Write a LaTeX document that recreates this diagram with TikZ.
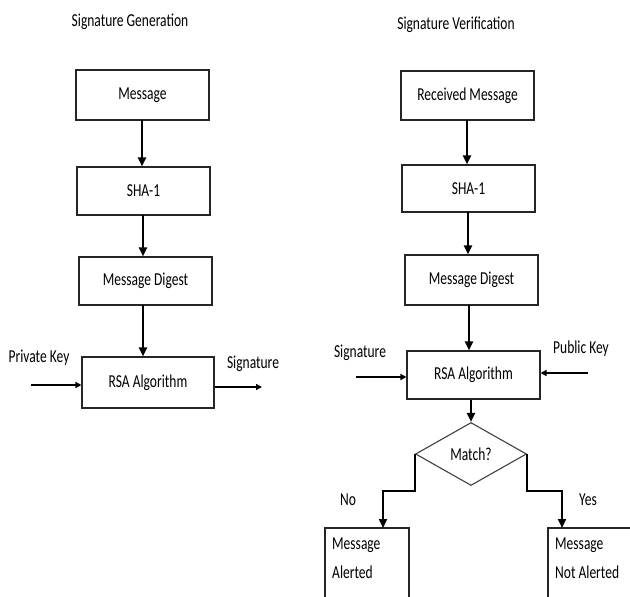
\documentclass[tikz,border=0pt]{standalone}
\usepackage{fontspec}
\setmainfont{Carlito}
\usepackage{graphicx}
\usetikzlibrary{shapes.geometric,arrows.meta}
\newcommand{\tallt}[1]{\scalebox{1}[1.35]{#1}}
\tikzset{
  box/.style={draw=black!85, line width=1.1pt, rectangle, inner sep=0pt,
              minimum width=133pt, font=\fontsize{13.5}{15}\selectfont},
  lbl/.style={inner sep=0pt, font=\fontsize{13.5}{15}\selectfont},
  flow/.style={line width=2pt, -{Triangle[length=9pt,width=8pt]}},
  side/.style={line width=2pt, -{Triangle[length=6pt,width=6pt]}},
  branch/.style={line width=2.2pt, -{Triangle[length=9pt,width=8pt]}}
}
\begin{document}
\begin{tikzpicture}[x=1pt,y=-1pt]
\useasboundingbox (0,0) rectangle (630,597);
\clip (0,0) rectangle (630,597);

% ---- generation side ----
\node[lbl] (gtitle) at (130,22) {\tallt{Signature Generation}};
\node[box, minimum height=50pt] (gmsg) at (142.5,95) {\tallt{Message}};
\node[box, minimum height=48pt] (gsha) at (143.5,191) {\tallt{SHA-1}};
\node[box, minimum height=48pt] (gdig) at (145.5,281) {\tallt{Message Digest}};
\node[box, minimum height=51pt, minimum width=132pt] (grsa) at (148,382.5) {\tallt{RSA Algorithm}};
\node[lbl] (privkey) at (39,358) {\tallt{Private Key}};
\node[lbl] (gsig) at (253,364) {\tallt{Signature}};
\coordinate (privin) at (31,385);
\coordinate (sigout) at (262,387);

\draw[flow] (142,120) coordinate (g1) -- (g1 |- gsha.north);
\draw[flow] (143,215) coordinate (g2) -- (g2 |- gdig.north);
\draw[flow] (143,305) coordinate (g3) -- (g3 |- grsa.north);
\draw[side] (privin) -- (privin -| grsa.west);
\draw[side] (sigout -| grsa.east) -- (sigout);

% ---- verification side ----
\node[lbl] (vtitle) at (456,25) {\tallt{Signature Verification}};
\node[box, minimum height=49pt] (vmsg) at (467.5,95.5) {\tallt{Received Message}};
\node[box, minimum height=47pt] (vsha) at (468.5,188.5) {\tallt{SHA-1}};
\node[box, minimum height=50pt] (vdig) at (471.5,280) {\tallt{Message Digest}};
\node[box, minimum height=48pt] (vrsa) at (473.5,375) {\tallt{RSA Algorithm}};
\node[lbl] (vsig) at (360,353) {\tallt{Signature}};
\node[lbl] (pubkey) at (581,349) {\tallt{Public Key}};
\coordinate (sigin) at (356,377);
\coordinate (pubin) at (588,373);

\node[diamond, draw=black!75, line width=1.1pt, inner sep=0pt,
      minimum width=111pt, minimum height=63pt,
      font=\fontsize{13.5}{15}\selectfont] (match) at (471,454) {\tallt{Match?}};

\draw[flow] (467,120) coordinate (v1) -- (v1 |- vsha.north);
\draw[flow] (468,212) coordinate (v2) -- (v2 |- vdig.north);
\draw[flow] (469,305) coordinate (v3) -- (v3 |- vrsa.north);
\draw[side] (sigin) -- (sigin -| vrsa.west);
\draw[side] (pubin) -- (pubin -| vrsa.east);
\draw[flow] (vrsa.south -| match.north) -- (match.north);

% outcome boxes run past the lower and right edges
\draw[draw=black!85, line width=1.1pt] (325,640) rectangle (409,528);
\coordinate (alerttop) at (383,528);
\node[lbl, anchor=north west, align=left, font=\fontsize{13.5}{27}\selectfont]
  (alerted) at (332,538) {\tallt{Message}\\[2pt]\tallt{Alerted}};
\draw[draw=black!85, line width=1.1pt] (548,640) rectangle (660,528);
\coordinate (notalerttop) at (562,528);
\node[lbl, anchor=north west, align=left, font=\fontsize{13.5}{27}\selectfont]
  (notalerted) at (555,538) {\tallt{Message}\\[2pt]\tallt{Not Alerted}};

\draw[branch] (match.west) |- (alerttop |- 0,491) -- (alerttop);
\draw[branch] (match.east) |- (notalerttop |- 0,491) -- (notalerttop);
\node[lbl] (no) at (348,500) {\tallt{No}};
\node[lbl] (yes) at (588,500) {\tallt{Yes}};
\end{tikzpicture}
\end{document}
